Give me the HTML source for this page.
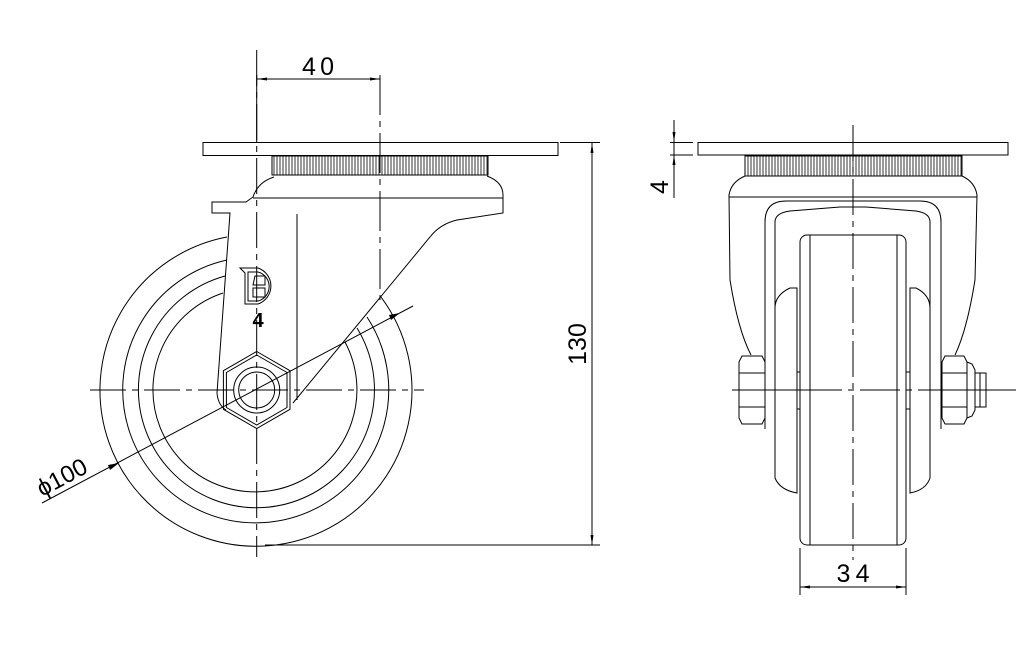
<!DOCTYPE html>
<html><head><meta charset="utf-8"><style>html,body{margin:0;padding:0;background:#fff}svg{display:block}</style></head><body>
<svg width="1035" height="645" viewBox="0 0 1035 645" xmlns="http://www.w3.org/2000/svg">
<defs>
<pattern id="kn" width="3" height="20" patternUnits="userSpaceOnUse"><line x1="1" y1="0" x2="1" y2="20" stroke="#000" stroke-width="0.8"/></pattern>
</defs>
<g fill="none" stroke="#000" stroke-width="1">
<!-- LEFT VIEW -->
<rect x="203" y="142.5" width="355" height="13"/>
<rect x="272" y="156" width="216" height="19" fill="url(#kn)"/>
<path d="M274,177 Q258,182 253,197 L246,202 L212,202 L212,213 L230,213 L217,393 Q218,405 226,410"/>
<line x1="253" y1="198" x2="503" y2="198"/>
<path d="M487,176 Q503,182 503,195 L503,213 L457,220 Q440,224 430,237 L293,403"/>
<line x1="297" y1="214" x2="297" y2="400"/>
<!-- wheel -->
<path d="M227,237 A156,156 0 1 0 381,297"/>
<path d="M227,260 A133,133 0 1 0 367,317"/>
<path d="M225,276 A118,118 0 1 0 357,328"/>
<path d="M223,293 A102,102 0 1 0 345,342"/>
<!-- hex nut -->
<polygon points="256.7,351.5 290,370.7 290,409.3 256.7,428.5 223.4,409.3 223.4,370.7"/>
<polygon points="256.7,355 287,372.5 287,407.5 256.7,425 226.4,407.5 226.4,372.5"/>
<circle cx="256.7" cy="390" r="23"/>
<circle cx="256.7" cy="390" r="18"/>
<!-- logo -->
<path d="M240,268 L258,268 A19,19 0 0 1 258,304 L245,304 L245,273 Z"/>
<path d="M248,272 L258,272 A15,15 0 0 1 258,301 L248,301 Z"/>
<path d="M255,276 L265,276 L265,285 L253,285 Z M253,288 L265,288 L265,297 L253,297 Z"/>
<!-- centerlines -->
<line x1="256.7" y1="50" x2="256.7" y2="557" stroke-dasharray="36,6,6,6"/>
<line x1="380" y1="75" x2="380" y2="300" stroke-dasharray="40,6,6,6"/>
<line x1="90" y1="390" x2="424" y2="390" stroke-dasharray="36,6,6,6"/>
<!-- dims -->
<line x1="256.7" y1="75" x2="256.7" y2="142"/>
<line x1="380" y1="75" x2="380" y2="100"/>
<line x1="257" y1="79" x2="380" y2="79"/>
<line x1="560" y1="142.5" x2="600" y2="142.5"/>
<line x1="265" y1="545" x2="600" y2="545"/>
<line x1="592" y1="143" x2="592" y2="545"/>
<line x1="42" y1="503" x2="413" y2="306"/>
<!-- RIGHT VIEW -->
<rect x="698" y="142.5" width="310" height="12.5"/>
<rect x="745" y="156" width="217" height="20" fill="url(#kn)"/>
<path d="M745,176 Q731,182 729,195 L730,280 Q738,330 751,355"/>
<path d="M962,176 Q975,182 977,195 L975,280 Q967,330 955,355"/>
<line x1="729" y1="197" x2="977" y2="197"/>
<path d="M765,429 L765,222 Q765,201 786,201 L920,201 Q941,201 941,222 L941,429"/>
<path d="M775,429 L775,222 Q775,213 790,211 L840,207 L866,207 L916,211 Q930,213 930,222 L930,429"/>
<path d="M797,288 L790,288 Q775,295 775,308 L775,478 Q780,490 797,493 Z"/>
<path d="M910,288 L916,288 Q930,295 930,308 L930,478 Q926,490 910,493 Z"/>
<line x1="797" y1="372" x2="800" y2="372"/><line x1="797" y1="409" x2="800" y2="409"/>
<line x1="906" y1="372" x2="910" y2="372"/><line x1="906" y1="409" x2="910" y2="409"/>
<rect x="800" y="235" width="106" height="310" rx="7"/>
<line x1="810" y1="235" x2="810" y2="545"/>
<line x1="897" y1="235" x2="897" y2="545"/>
<path d="M742,356 L762,356 L765,362 L765,418 L762,424 L742,424 L739,418 L739,362 Z"/>
<line x1="739" y1="373" x2="765" y2="373"/><line x1="739" y1="407" x2="765" y2="407"/>
<path d="M945,356 L964,356 L967,362 L967,418 L964,424 L945,424 L942,418 L942,362 Z"/>
<line x1="942" y1="373" x2="967" y2="373"/><line x1="942" y1="407" x2="967" y2="407"/>
<path d="M967,362 L972,364 L975,370 L975,410 L972,416 L967,418"/>
<rect x="975" y="373" width="11" height="34"/>
<line x1="980" y1="373" x2="980" y2="407"/>
<line x1="853" y1="125" x2="853" y2="560" stroke-dasharray="36,6,6,6"/>
<line x1="732" y1="390" x2="1016" y2="390" stroke-dasharray="110,6,6,6,40,6,6,6"/>
<line x1="800" y1="548" x2="800" y2="595"/>
<line x1="906" y1="548" x2="906" y2="595"/>
<line x1="800" y1="587" x2="906" y2="587"/>
<line x1="670" y1="142.5" x2="693" y2="142.5"/>
<line x1="670" y1="155" x2="693" y2="155"/>
<line x1="674" y1="120" x2="674" y2="198"/>
</g>
<g fill="#000" stroke="none">
<polygon points="257,79 267,77.5 267,80.5"/><polygon points="380,79 370,77.5 370,80.5"/>
<polygon points="592,143 590.5,153 593.5,153"/><polygon points="592,545 590.5,535 593.5,535"/>
<polygon points="119,463 108,465 110,470"/><polygon points="400,313 389,315 391,320"/>
<polygon points="800,587 810,585.5 810,588.5"/><polygon points="906,587 896,585.5 896,588.5"/>
<polygon points="674,142 672.5,132 675.5,132"/><polygon points="674,155 672.5,165 675.5,165"/>
</g>
<g font-family="Liberation Sans, sans-serif" fill="#000" font-weight="normal">
<text x="318" y="75" font-size="25" text-anchor="middle" textLength="32">40</text>
<text x="853" y="582" font-size="25" text-anchor="middle" textLength="33">34</text>
<text transform="translate(586,344) rotate(-90)" font-size="25" text-anchor="middle">130</text>
<text transform="translate(668,187) rotate(-90)" font-size="25" text-anchor="middle">4</text>
<text transform="translate(42,497) rotate(-28)" font-size="24">ϕ100</text>
<text x="258" y="327" font-size="20" font-weight="bold" text-anchor="middle">4</text>
</g>
</svg>
</body></html>
